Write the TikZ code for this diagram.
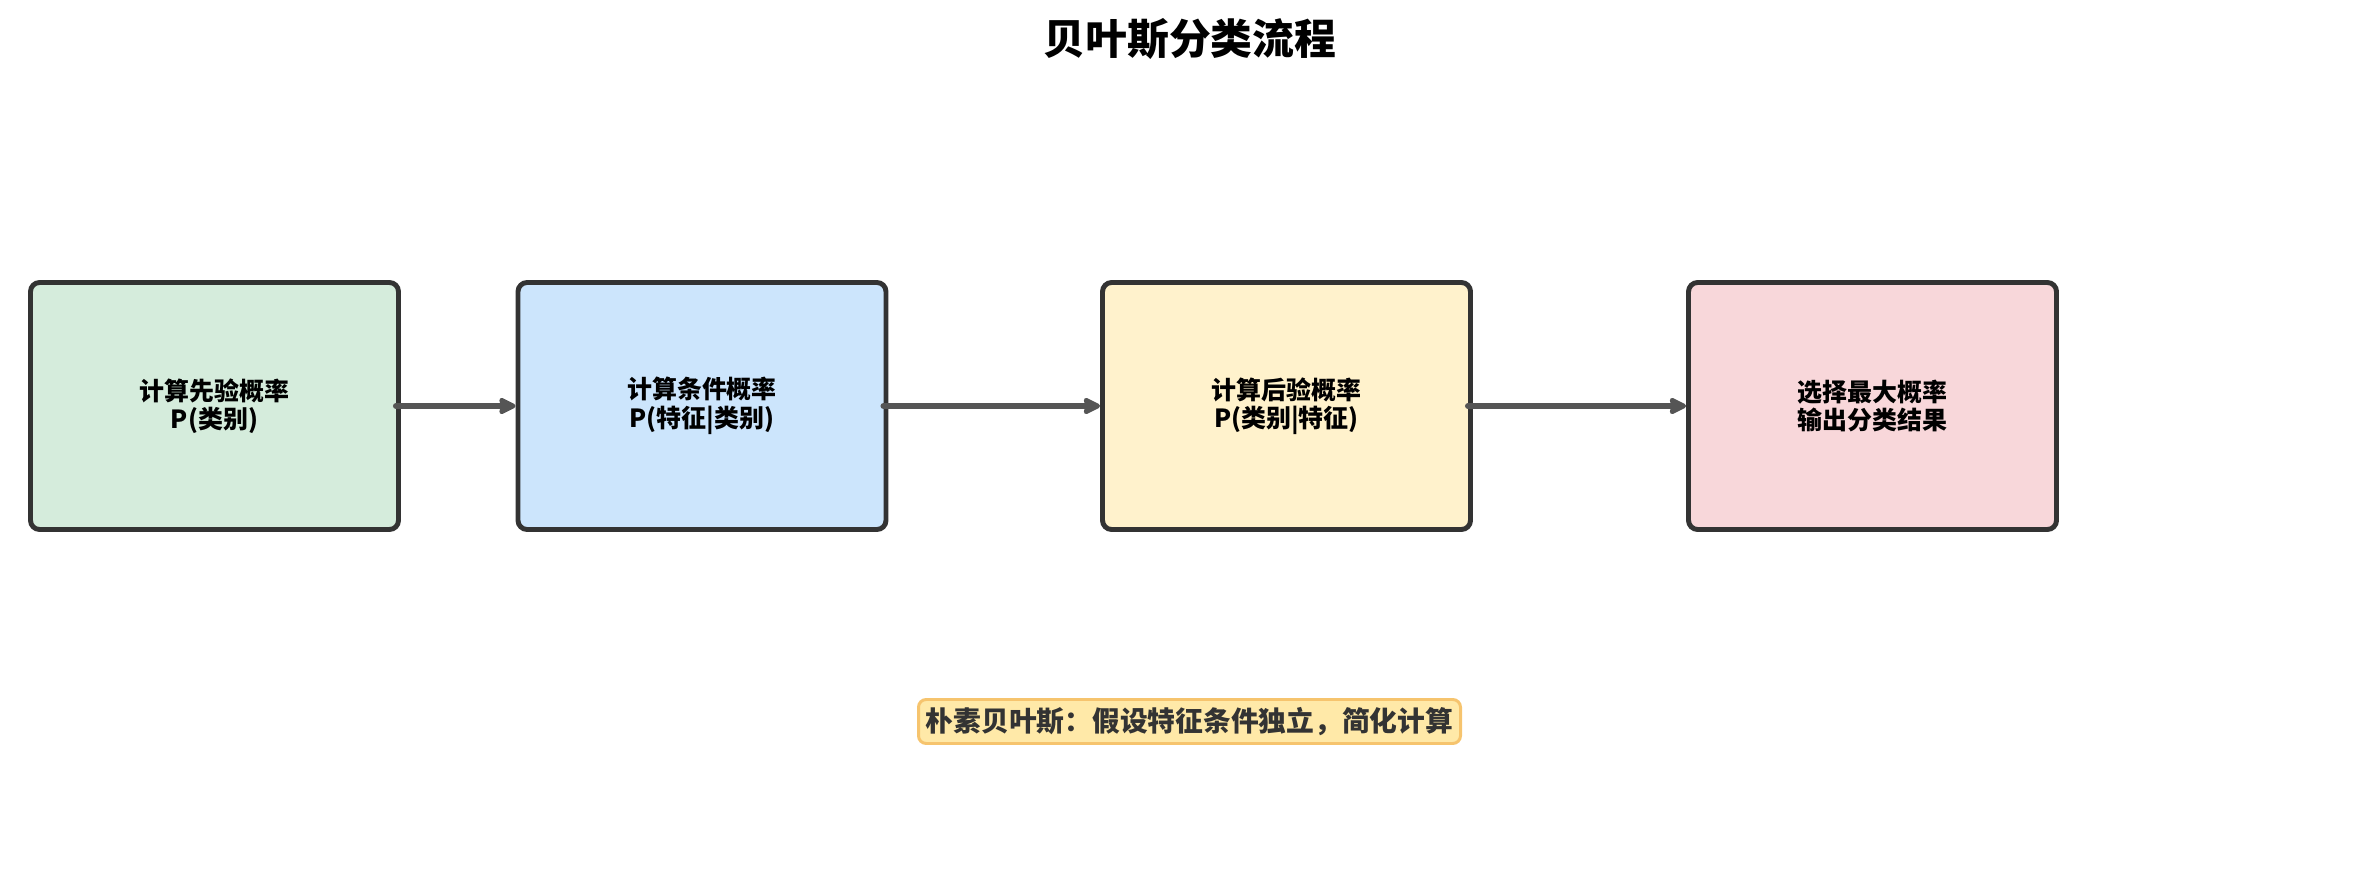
\documentclass[tikz,border=0pt]{standalone}
\usepackage{fontspec}
\setmainfont{Noto Sans CJK SC}
\usetikzlibrary{arrows.meta}

\definecolor{boxline}{HTML}{333333}
\definecolor{flowgray}{HTML}{555555}
\definecolor{priorgreen}{HTML}{D5ECDC}
\definecolor{likeliblue}{HTML}{CCE5FC}
\definecolor{postyellow}{HTML}{FFF2CC}
\definecolor{decidepink}{HTML}{F8D7DA}
\definecolor{notefill}{HTML}{FFE9A8}
\definecolor{noteline}{HTML}{F6C46E}

\tikzset{
  stagebox/.style={draw=boxline, line width=1.4pt, rounded corners=2.6pt,
    minimum width=3.68cm, minimum height=2.47cm, inner sep=0pt,
    align=center, font=\fontsize{7.1}{8.1}\selectfont\bfseries},
  flow/.style={draw=flowgray, line width=1.7pt, line cap=round,
    -{Stealth[length=5.6pt,width=5.4pt,inset=0.6pt,round]}},
  notebox/.style={draw=noteline, fill=notefill, line width=0.85pt,
    rounded corners=2.2pt, minimum width=5.42cm, minimum height=0.44cm,
    inner sep=0pt, text=boxline, font=\fontsize{7.9}{9}\selectfont\bfseries},
}

\begin{document}
\begin{tikzpicture}
  \useasboundingbox (0,0) rectangle (23.79,-8.78);

  % Title
  \node[font=\fontsize{11.9}{13}\selectfont\bfseries] (title) at (11.9,-0.39) {贝叶斯分类流程};

  % Stages of the classifier
  \node[stagebox, fill=priorgreen] (prior) at (2.145,-4.06) {计算先验概率\\P(类别)};
  \node[stagebox, fill=likeliblue] (likeli) at (7.02,-4.06) {计算条件概率\\P(特征|类别)};
  \node[stagebox, fill=postyellow] (post) at (12.865,-4.06) {计算后验概率\\P(类别|特征)};
  \node[stagebox, fill=decidepink] (decide) at (18.725,-4.06) {选择最大概率\\输出分类结果};

  % Flow between stages
  \draw[flow] ([xshift=-0.05cm]prior.east) -- (likeli.west);
  \draw[flow] ([xshift=-0.05cm]likeli.east) -- (post.west);
  \draw[flow] ([xshift=-0.05cm]post.east) -- (decide.west);

  % Naive assumption
  \node[notebox] (note) at (11.895,-7.215) {朴素贝叶斯：假设特征条件独立，简化计算};
\end{tikzpicture}
\end{document}
